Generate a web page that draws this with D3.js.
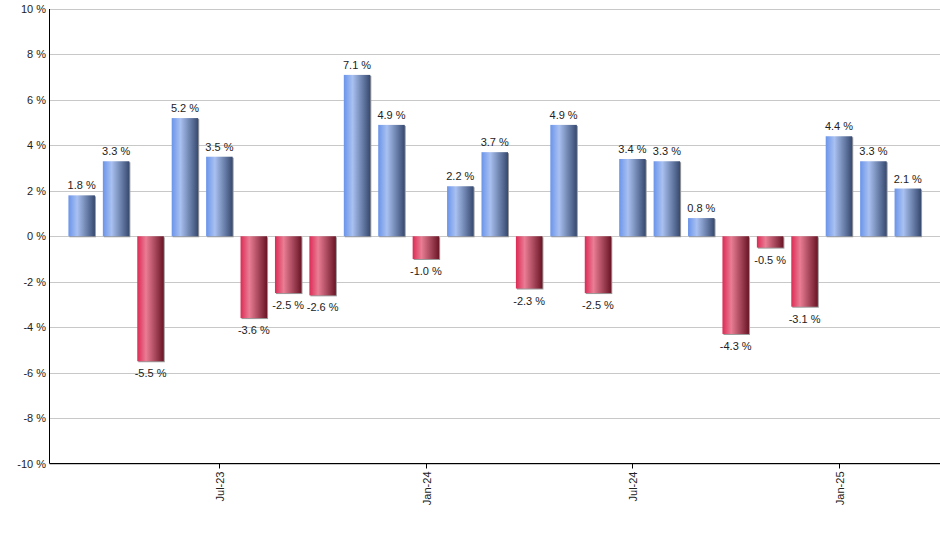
<!DOCTYPE html>
<html><head><meta charset="utf-8">
<script src="https://cdn.jsdelivr.net/npm/d3@7/dist/d3.min.js"></script>
<style>body{margin:0;background:#fff;} text{font-family:"Liberation Sans",Arial,sans-serif;}</style>
</head><body>
<svg id="c" width="940" height="550"></svg>
<script>
const months = ["Mar-23","Apr-23","May-23","Jun-23","Jul-23","Aug-23","Sep-23","Oct-23","Nov-23","Dec-23","Jan-24","Feb-24","Mar-24","Apr-24","May-24","Jun-24","Jul-24","Aug-24","Sep-24","Oct-24","Nov-24","Dec-24","Jan-25","Feb-25","Mar-25"];
const returns = [1.8,3.3,-5.5,5.2,3.5,-3.6,-2.5,-2.6,7.1,4.9,-1.0,2.2,3.7,-2.3,4.9,-2.5,3.4,3.3,0.8,-4.3,-0.5,-3.1,4.4,3.3,2.1];
const xTickLabels = ["Jul-23","Jan-24","Jul-24","Jan-25"];
const yTicks = [-10,-8,-6,-4,-2,0,2,4,6,8,10];

const svg = d3.select("#c");
const L = 49.5, R = 940, T = 9, B = 463.5;
const y = d3.scaleLinear().domain([-10,10]).range([B,T]);
const x = d3.scaleBand().domain(months).range([L, R]).paddingInner(0.23).paddingOuter(0.55);

const defs = svg.append("defs");
function grad(id, stops){
  const g = defs.append("linearGradient").attr("id",id).attr("x1","0%").attr("x2","100%").attr("y1","0%").attr("y2","0%");
  stops.forEach(s=>g.append("stop").attr("offset",s[0]).attr("stop-color",s[1]));
}
grad("gb",[["0%","#6a94ea"],["33%","#a9c1f1"],["100%","#36496f"]]);
grad("gr",[["0%","#dd2a55"],["33%","#e97d94"],["100%","#6a1526"]]);

// grid
svg.append("g").selectAll("line").data(yTicks).join("line")
  .attr("x1",L).attr("x2",R).attr("y1",d=>Math.round(y(d))+0.5).attr("y2",d=>Math.round(y(d))+0.5)
  .attr("stroke","#c8c8c8").attr("stroke-width",1);

// y labels
svg.append("g").selectAll("text").data(yTicks).join("text")
  .attr("x",46).attr("y",d=>y(d)+4).attr("text-anchor","end")
  .attr("font-size",11).attr("fill","#222").text(d=>d+" %");

// bars shadow
const bars = svg.append("g");
bars.selectAll("rect.s").data(returns).join("rect").attr("class","s")
  .attr("x",(d,i)=>x(months[i])+1).attr("width",x.bandwidth())
  .attr("y",d=>Math.min(y(d),y(0))+1).attr("height",d=>Math.abs(y(d)-y(0)))
  .attr("fill","#9a9a9a");
bars.selectAll("rect.b").data(returns).join("rect").attr("class","b")
  .attr("x",(d,i)=>x(months[i])).attr("width",x.bandwidth())
  .attr("y",d=>Math.min(y(d),y(0))).attr("height",d=>Math.abs(y(d)-y(0)))
  .attr("fill",d=>d>=0?"url(#gb)":"url(#gr)");

// value labels
svg.append("g").selectAll("text").data(returns).join("text")
  .attr("x",(d,i)=>x(months[i])+x.bandwidth()/2)
  .attr("y",d=>d>=0? y(d)-6 : y(d)+16)
  .attr("text-anchor","middle").attr("font-size",11).attr("fill","#222")
  .text(d=>d.toFixed(1)+" %");

// axes lines
svg.append("line").attr("x1",L).attr("x2",L).attr("y1",T).attr("y2",B).attr("stroke","#000");
svg.append("line").attr("x1",L).attr("x2",R).attr("y1",B).attr("y2",B).attr("stroke","#000");

// x ticks
const xt = svg.append("g").selectAll("g").data(xTickLabels).join("g")
  .attr("transform",d=>`translate(${Math.round(x(d)+x.bandwidth()/2)+0.5},${B})`);
xt.append("line").attr("y1",0).attr("y2",5).attr("stroke","#000");
xt.append("text").attr("transform","rotate(-90)").attr("x",-8).attr("y",4)
  .attr("text-anchor","end").attr("font-size",11).attr("fill","#222").text(d=>d);
</script>
</body></html>
